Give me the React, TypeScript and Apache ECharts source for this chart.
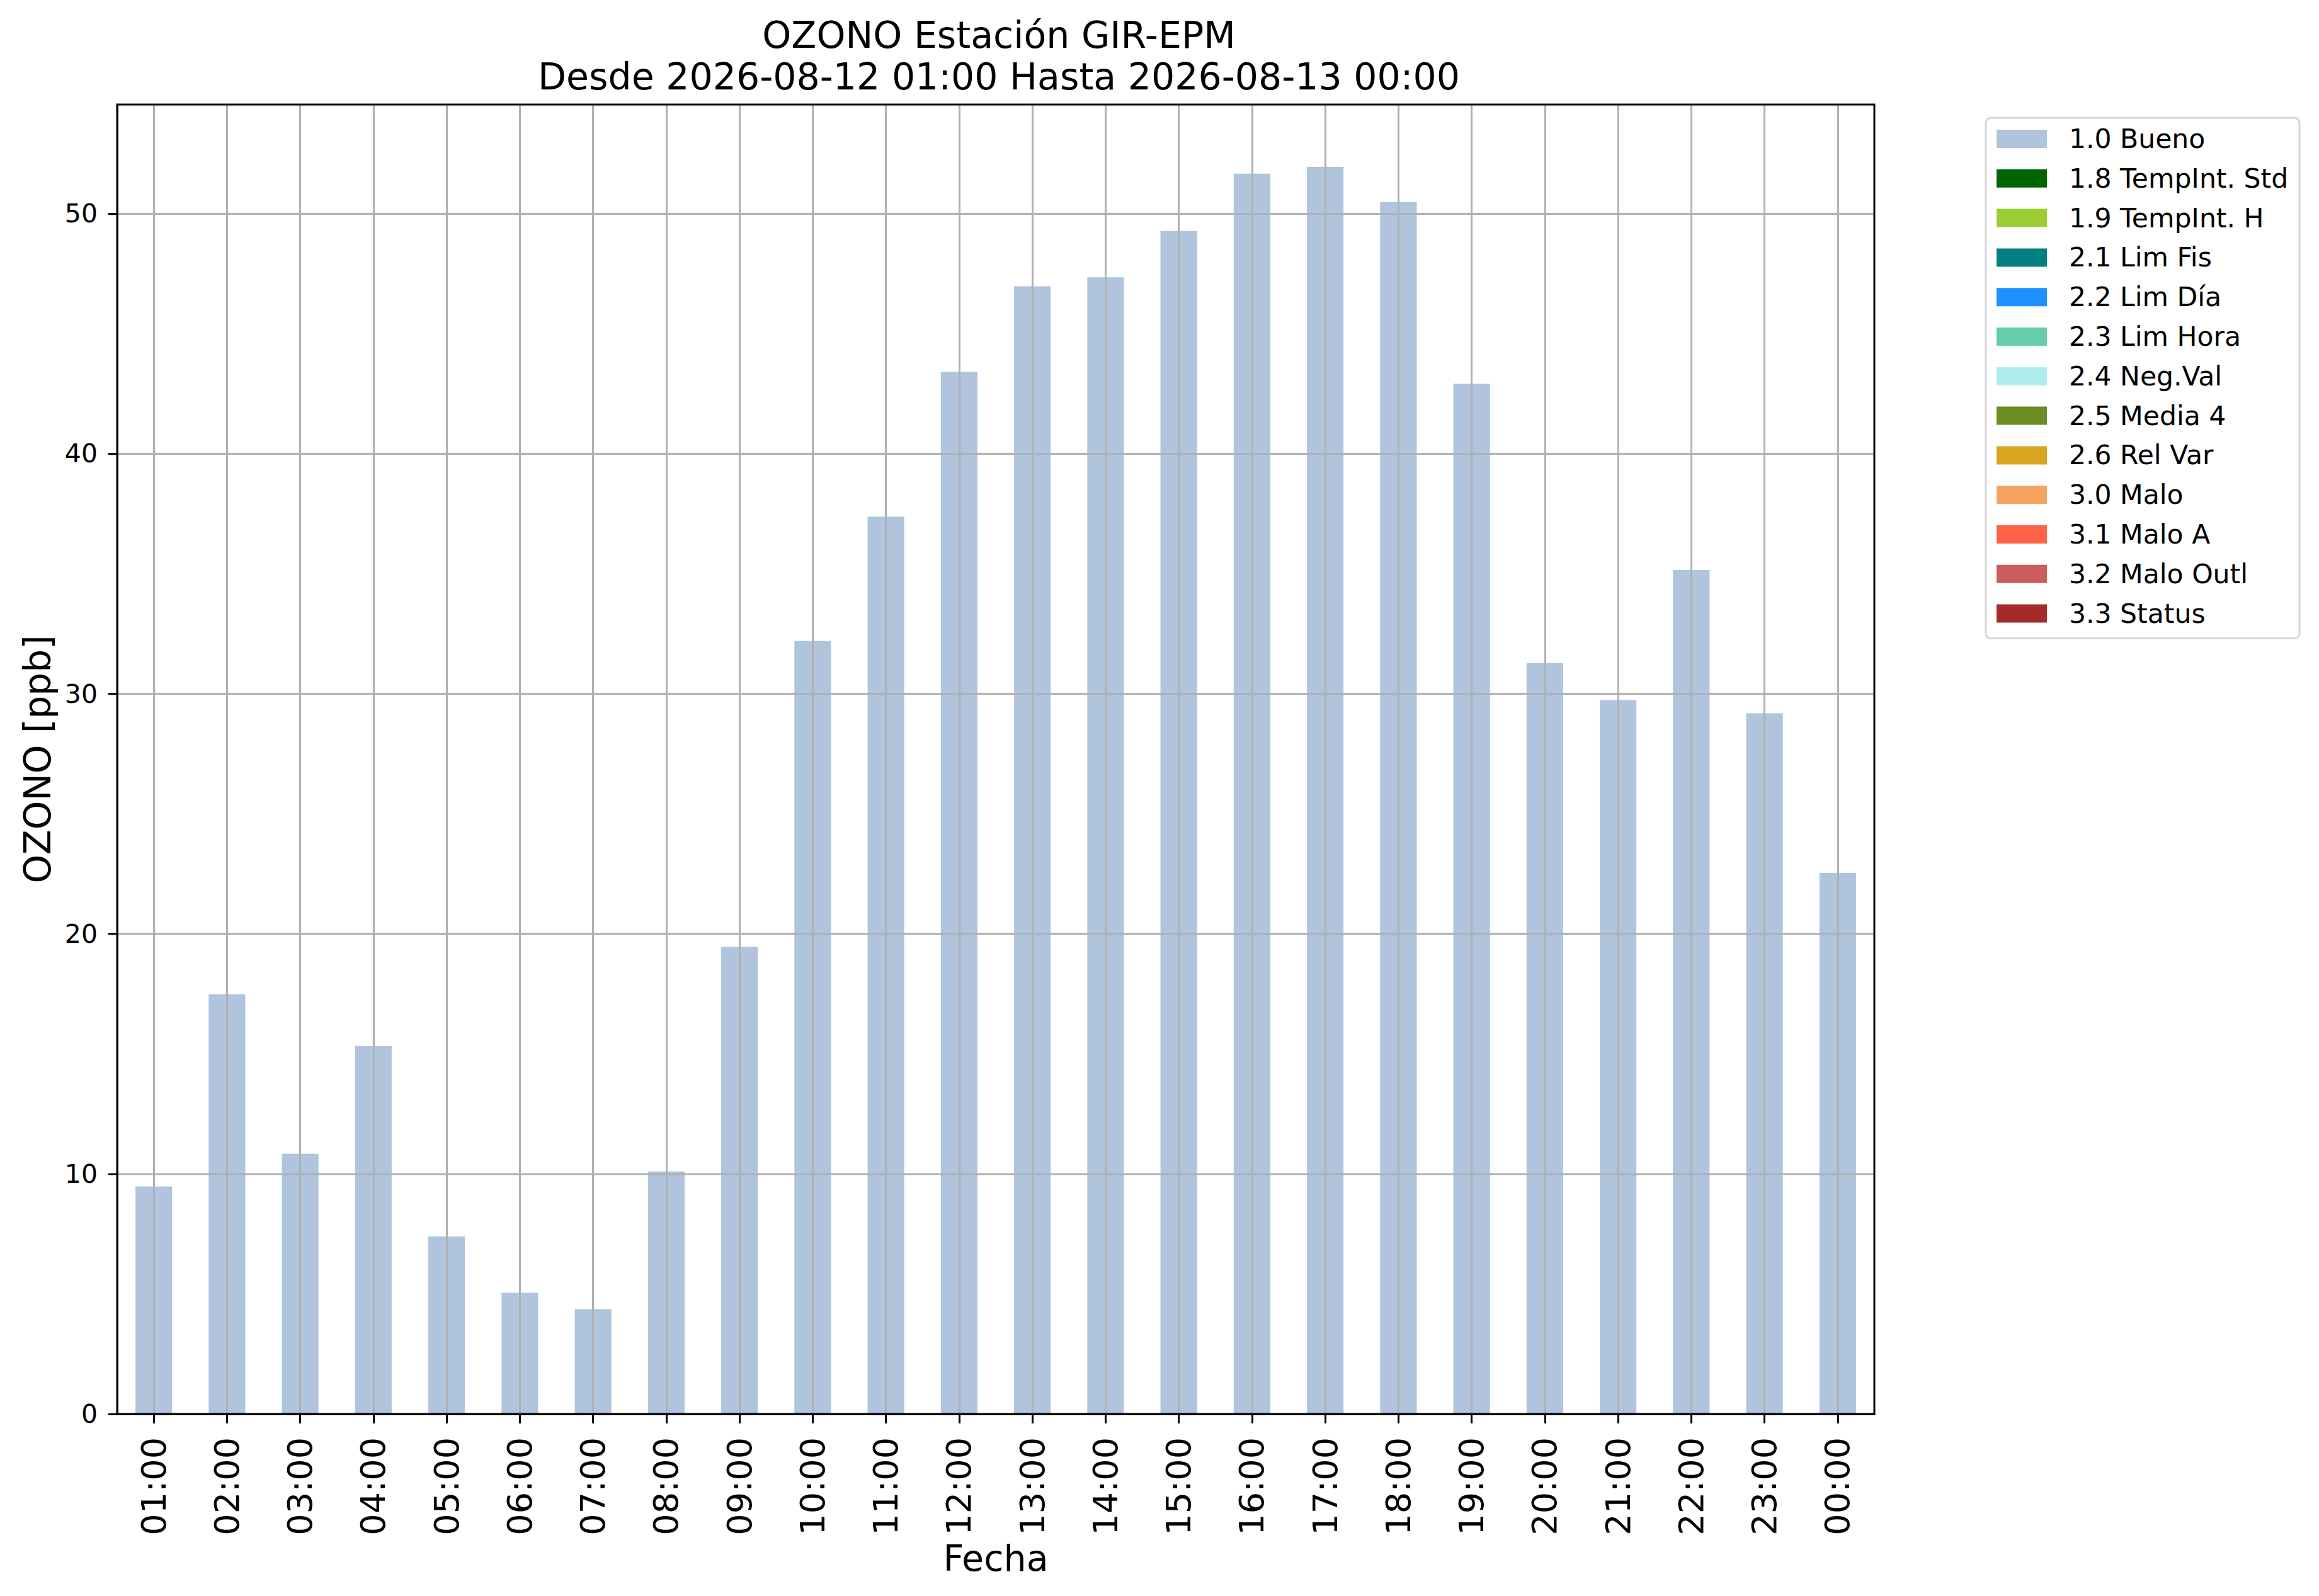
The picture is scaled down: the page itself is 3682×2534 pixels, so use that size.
import React, { useEffect, useRef } from "react";
import * as echarts from "echarts";

const categories = [
  "01:00", "02:00", "03:00", "04:00", "05:00", "06:00", "07:00", "08:00",
  "09:00", "10:00", "11:00", "12:00", "13:00", "14:00", "15:00", "16:00",
  "17:00", "18:00", "19:00", "20:00", "21:00", "22:00", "23:00", "00:00",
];

const buenoValues = [
  9.48, 17.49, 10.84, 15.33, 7.39, 5.05, 4.37, 10.1,
  19.46, 32.2, 37.38, 43.41, 46.98, 47.35, 49.28, 51.67,
  51.95, 50.49, 42.92, 31.28, 29.74, 35.16, 29.19, 22.54,
];

const legendNames = [
  "1.0 Bueno", "1.8 TempInt. Std", "1.9 TempInt. H", "2.1 Lim Fis",
  "2.2 Lim Día", "2.3 Lim Hora", "2.4 Neg.Val", "2.5 Media 4",
  "2.6 Rel Var", "3.0 Malo", "3.1 Malo A", "3.2 Malo Outl", "3.3 Status",
];

const legendColors = [
  "#b0c4de", "#006400", "#9acd32", "#008080", "#1e90ff", "#66cdaa",
  "#afeeee", "#6b8e23", "#daa520", "#f4a460", "#ff6347", "#cd5c5c", "#a52a2a",
];

const yTicks = [0, 10, 20, 30, 40, 50];

const FONT = "DejaVu Sans";

export default function App() {
  const ref = useRef<HTMLDivElement>(null);

  useEffect(() => {
    if (!ref.current) return;
    const chart = echarts.init(ref.current, undefined, { renderer: "svg" });
    const yMax = Math.max(...buenoValues) * 1.05;

    const gridLineStyle = { type: "solid", color: "#b0b0b0", width: 3 };

    const series: any[] = legendNames.map((name, i) => {
      const s: any = {
        name,
        type: "bar",
        stack: "all",
        barWidth: "50%",
        data: i === 0 ? buenoValues : [],
        itemStyle: { color: legendColors[i] },
        animation: false,
      };
      if (i === 0) {
        s.markLine = {
          silent: true,
          symbol: ["none", "none"],
          label: { show: false },
          lineStyle: gridLineStyle,
          emphasis: { disabled: true },
          animation: false,
          data: [
            ...categories.map((c) => ({ xAxis: c })),
            ...yTicks.map((v) => ({ yAxis: v })),
          ],
        };
      }
      return s;
    });

    chart.setOption({
      animation: false,
      backgroundColor: "#ffffff",
      title: {
        text: "OZONO Estación GIR-EPM\nDesde 2026-08-12 01:00 Hasta 2026-08-13 00:00",
        left: 1581,
        top: 18,
        textAlign: "center",
        textStyle: {
          fontFamily: FONT,
          fontSize: 58.5,
          fontWeight: "normal",
          color: "#000",
          lineHeight: 66,
        },
      },
      legend: {
        orient: "vertical",
        left: 3153,
        top: 187,
        padding: [12, 18, 18, 17],
        itemWidth: 80,
        itemHeight: 29,
        itemGap: 19.8,
        icon: "rect",
        backgroundColor: "#ffffff",
        borderColor: "#d6d6d6",
        borderWidth: 3,
        borderRadius: 8,
        textStyle: {
          fontFamily: FONT,
          fontSize: 42.5,
          color: "#000",
          lineHeight: 42,
          padding: [0, 0, 0, 30],
        },
        data: legendNames,
      },
      grid: {
        left: 186,
        top: 166,
        width: 2790,
        height: 2079,
        show: true,
        borderColor: "#000",
        borderWidth: 3,
        backgroundColor: "transparent",
        containLabel: false,
        z: 10,
      },
      xAxis: {
        type: "category",
        data: categories,
        boundaryGap: true,
        z: 10,
        name: "Fecha",
        nameLocation: "middle",
        nameGap: 186,
        nameTextStyle: {
          fontFamily: FONT,
          fontSize: 57,
          color: "#000",
          lineHeight: 57,
        },
        axisLine: { show: true, lineStyle: { color: "#000", width: 3 } },
        axisTick: {
          show: true,
          alignWithLabel: true,
          length: 15,
          lineStyle: { color: "#000", width: 3 },
        },
        axisLabel: {
          rotate: 90,
          margin: 37,
          fontFamily: FONT,
          fontSize: 54,
          color: "#000",
          interval: 0,
        },
        splitLine: { show: false },
      },
      yAxis: {
        type: "value",
        min: 0,
        max: yMax,
        interval: 10,
        z: 10,
        name: "OZONO [ppb]",
        nameLocation: "middle",
        nameRotate: 90,
        nameGap: 97,
        nameTextStyle: {
          fontFamily: FONT,
          fontSize: 58,
          color: "#000",
          lineHeight: 58,
        },
        axisLine: { show: true, lineStyle: { color: "#000", width: 3 } },
        axisTick: {
          show: true,
          length: 14,
          lineStyle: { color: "#000", width: 3 },
          customValues: yTicks,
        },
        axisLabel: {
          margin: 31,
          fontFamily: FONT,
          fontSize: 41,
          color: "#000",
          customValues: yTicks,
        },
        splitLine: { show: false },
      },
      series,
    });

    return () => {
      chart.dispose();
    };
  }, []);

  return (
    <div
      ref={ref}
      style={{
        position: "fixed",
        left: 0,
        top: 0,
        width: "3682px",
        height: "2534px",
        background: "#fff",
      }}
    />
  );
}
